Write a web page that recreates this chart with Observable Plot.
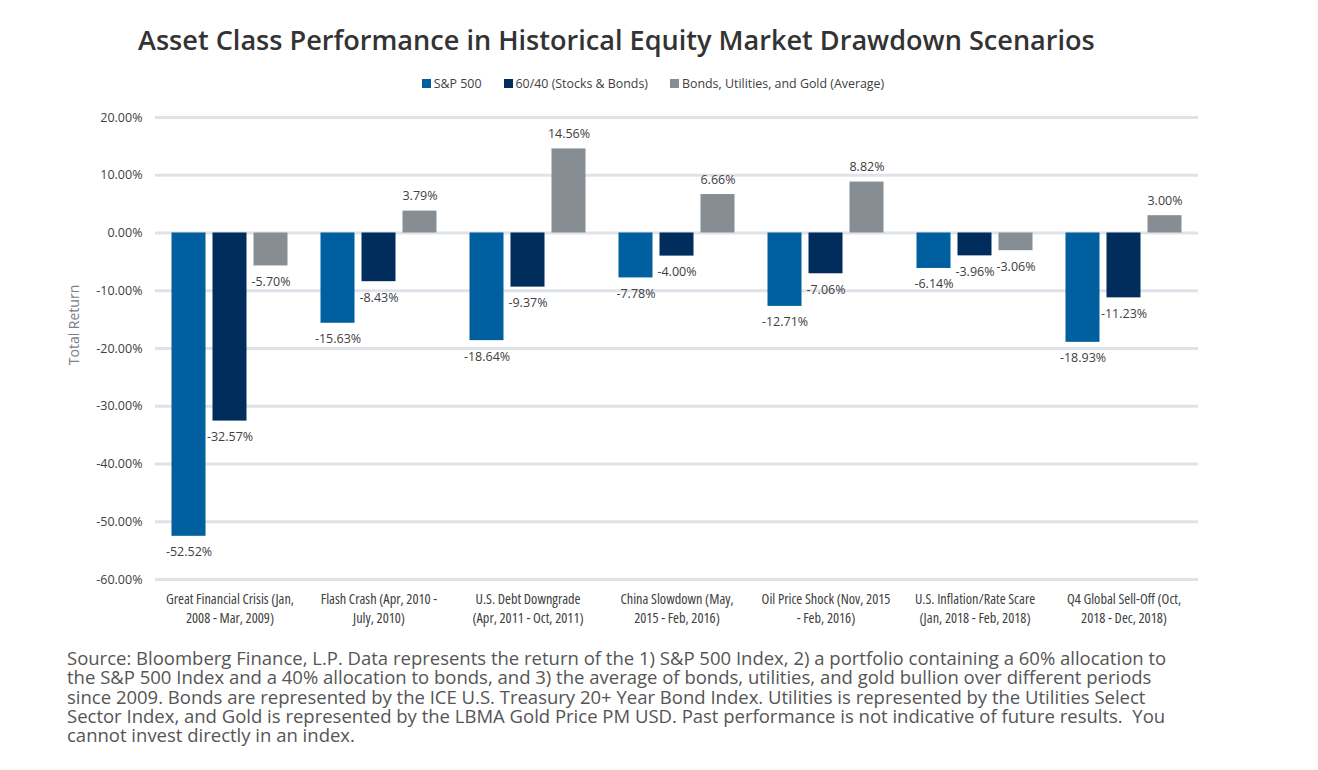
<!DOCTYPE html>
<html>
<head>
<meta charset="utf-8">
<script src="https://cdn.jsdelivr.net/npm/d3@7"></script>
<script src="https://cdn.jsdelivr.net/npm/@observablehq/plot@0.6"></script>
<style>
  html, body { margin: 0; padding: 0; background: #fff; }
  body { width: 1318px; height: 770px; position: relative; font-family: "Open Sans", sans-serif; overflow: hidden; }
  #title { position: absolute; left: 138px; top: 21px; font-size: 27.1px; font-weight: 600; color: #333; white-space: nowrap; }
  #legend { position: absolute; left: 0; width: 1306px; top: 75px; text-align: center; font-size: 12.4px; color: #404040; white-space: nowrap; }
  #legend span.item { display: inline-block; margin: 0 11px; }
  #legend span.sw { display: inline-block; width: 9px; height: 9px; margin-right: 3px; vertical-align: 0px; }
  #chart { position: absolute; left: 0; top: 100px; }
  #ylabel { position: absolute; left: 73px; top: 325px; transform: translate(-50%, -50%) rotate(-90deg); font-size: 14px; color: #7b8189; white-space: nowrap; }
  #caption { position: absolute; left: 67px; top: 648px; font-size: 18.5px; line-height: 19.3px; color: #555; white-space: nowrap; }
  svg g.fxlab text { font-stretch: condensed; }
</style>
</head>
<body>
<div id="title">Asset Class Performance in Historical Equity Market Drawdown Scenarios</div>
<div id="legend"></div>
<div id="chart"></div>
<div id="ylabel">Total Return</div>
<div id="caption">Source: Bloomberg Finance, L.P. Data represents the return of the 1) S&amp;P 500 Index, 2) a portfolio containing a 60% allocation to<br>the S&amp;P 500 Index and a 40% allocation to bonds, and 3) the average of bonds, utilities, and gold bullion over different periods<br>since 2009. Bonds are represented by the ICE U.S. Treasury 20+ Year Bond Index. Utilities is represented by the Utilities Select<br>Sector Index, and Gold is represented by the LBMA Gold Price PM USD. Past performance is not indicative of future results.&nbsp; You<br>cannot invest directly in an index.</div>
<script>
const categories = [
  "Great Financial Crisis (Jan,\n2008 - Mar, 2009)",
  "Flash Crash (Apr, 2010 -\nJuly, 2010)",
  "U.S. Debt Downgrade\n(Apr, 2011 - Oct, 2011)",
  "China Slowdown (May,\n2015 - Feb, 2016)",
  "Oil Price Shock (Nov, 2015\n- Feb, 2016)",
  "U.S. Inflation/Rate Scare\n(Jan, 2018 - Feb, 2018)",
  "Q4 Global Sell-Off (Oct,\n2018 - Dec, 2018)"
];
const seriesNames = ["S&P 500", "60/40 (Stocks & Bonds)", "Bonds, Utilities, and Gold (Average)"];
const seriesColors = ["#005f9e", "#002d5c", "#868e93"];
const sp500 = [-52.52, -15.63, -18.64, -7.78, -12.71, -6.14, -18.93];
const sixtyForty = [-32.57, -8.43, -9.37, -4.00, -7.06, -3.96, -11.23];
const bugAvg = [-5.70, 3.79, 14.56, 6.66, 8.82, -3.06, 3.00];
const yTicks = [20, 10, 0, -10, -20, -30, -40, -50, -60];

const seriesValues = [sp500, sixtyForty, bugAvg];
const data = [];
categories.forEach((c, i) => {
  seriesNames.forEach((s, j) => data.push({category: c, series: s, value: seriesValues[j][i]}));
});

const fmt = d => d.toFixed(2) + "%";

const chart = Plot.plot({
  width: 1318,
  height: 540,
  marginTop: 17,
  marginBottom: 61,
  marginLeft: 155,
  marginRight: 120,
  style: {fontFamily: "'Open Sans', sans-serif", fontSize: "12px", color: "#404040", background: "transparent"},
  fx: {domain: categories, paddingInner: 0, paddingOuter: 0, round: false, label: null},
  x: {domain: seriesNames, paddingInner: 7 / 41, paddingOuter: 0.4024, round: false, axis: null},
  y: {domain: [-60, 20], ticks: yTicks, label: null},
  color: {domain: seriesNames, range: seriesColors},
  marks: [
    Plot.gridY(yTicks, {stroke: "#dfe3e9", strokeOpacity: 1, strokeWidth: 3}),
    Plot.axisY(yTicks, {tickSize: 0, tickPadding: 13, tickFormat: fmt, label: null, fill: "#404040", fontSize: 12.5}),
    Plot.axisFx({anchor: "bottom", tickSize: 0, tickPadding: 11, label: null, lineHeight: 1.33, fontSize: 14.3, fill: "#404040", className: "fxlab"}),
    Plot.barY(data, {fx: "category", x: "series", y1: 0, y2: "value", fill: "series"}),
    Plot.text(data.filter(d => d.value < 0), {fx: "category", x: "series", y: "value", text: d => fmt(d.value), dy: 16, fill: "#404040", fontSize: 12.5}),
    Plot.text(data.filter(d => d.value >= 0), {fx: "category", x: "series", y: "value", text: d => fmt(d.value), dy: -15, fill: "#404040", fontSize: 12.5})
  ]
});
document.getElementById("chart").appendChild(chart);

const legend = document.getElementById("legend");
seriesNames.forEach((s, j) => {
  const item = document.createElement("span");
  item.className = "item";
  const sw = document.createElement("span");
  sw.className = "sw";
  sw.style.background = seriesColors[j];
  item.appendChild(sw);
  item.appendChild(document.createTextNode(s));
  legend.appendChild(item);
});
</script>
</body>
</html>
